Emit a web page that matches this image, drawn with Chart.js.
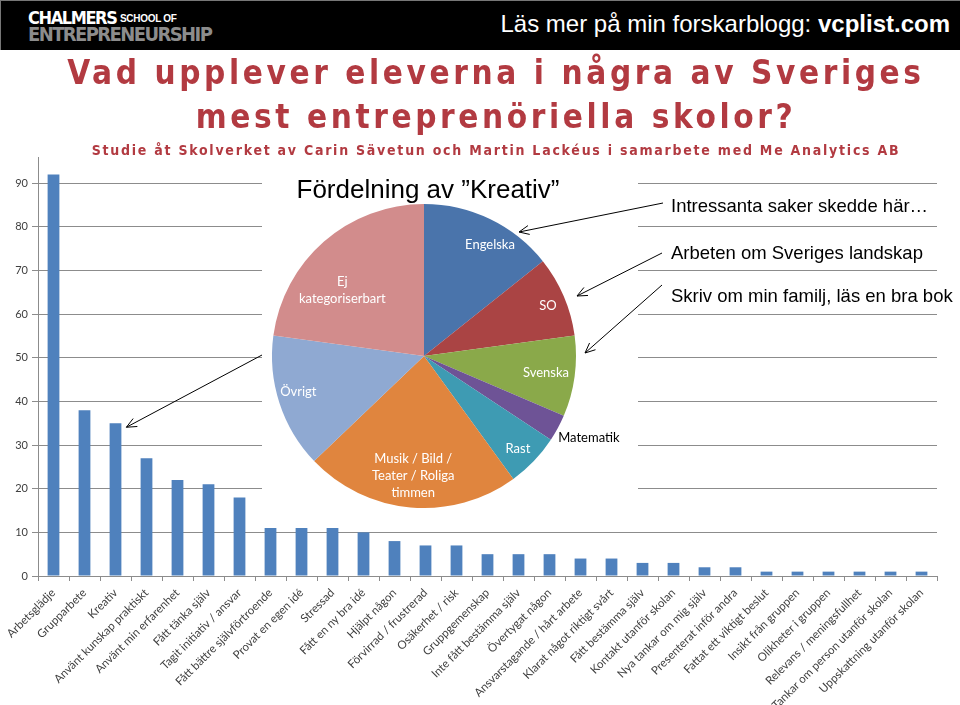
<!DOCTYPE html>
<html>
<head>
<meta charset="utf-8">
<script src="https://cdn.jsdelivr.net/npm/chart.js@4.4.0/dist/chart.umd.min.js"></script>
<style>
body { margin: 0; width: 960px; height: 705px; position: relative; overflow: hidden; background: #fff; font-family: 'Liberation Sans', Arial, sans-serif; }
canvas { position: absolute; left: 0; top: 0; }
.abs { position: absolute; white-space: nowrap; }
#header { left: 0; top: 0; width: 960px; height: 50px; background: #000; border-top: 1px solid #777; border-left: 1px solid #777; box-sizing: border-box; }
#logo1 { left: 28px; top: 7px; color: #fff; font: bold 18px 'DejaVu Sans Condensed', sans-serif; letter-spacing: -1.4px; }
#logo2 { left: 120px; top: 13px; color: #fff; font: bold 10px 'Liberation Sans', sans-serif; letter-spacing: -0.3px; }
#logo3 { left: 28px; top: 22px; color: #8c8c8c; font: bold 20px 'DejaVu Sans Condensed', sans-serif; letter-spacing: -1.6px; }
#blog { right: 10px; top: 9px; color: #fff; font-size: 24px; line-height: 30px; }
.title { left: 16px; width: 960px; text-align: center; color: #b23a41; font-family: 'DejaVu Sans Condensed', sans-serif; font-weight: bold; }
#t1 { top: 55px; font-size: 33px; line-height: 36px; letter-spacing: 3.6px; }
#t2 { top: 99px; font-size: 33px; line-height: 36px; letter-spacing: 3.6px; }
#sub { top: 141px; font-size: 14px; line-height: 18px; letter-spacing: 1.75px; }
#pieTitle { left: 228px; width: 400px; top: 173px; text-align: center; font-size: 26px; line-height: 32px; color: #000; }
.note { left: 671px; color: #000; font-size: 18.5px; line-height: 22px; }
#n1 { top: 195px; }
#n2 { top: 242px; }
#n3 { top: 285px; }
</style>
</head>
<body>
<canvas id="barChart" width="960" height="705"></canvas>
<canvas id="pieChart" width="960" height="705"></canvas>

<div id="header" class="abs"></div>
<div id="logo1" class="abs">CHALMERS</div>
<div id="logo2" class="abs">SCHOOL OF</div>
<div id="logo3" class="abs">ENTREPRENEURSHIP</div>
<div id="blog" class="abs">Läs mer på min forskarblogg: <b>vcplist.com</b></div>

<div id="t1" class="abs title">Vad upplever eleverna i några av Sveriges</div>
<div id="t2" class="abs title">mest entreprenöriella skolor?</div>
<div id="sub" class="abs title">Studie åt Skolverket av Carin Sävetun och Martin Lackéus i samarbete med Me Analytics AB</div>

<div id="pieTitle" class="abs">Fördelning av ”Kreativ”</div>
<div id="n1" class="abs note">Intressanta saker skedde här…</div>
<div id="n2" class="abs note">Arbeten om Sveriges landskap</div>
<div id="n3" class="abs note">Skriv om min familj, läs en bra bok</div>

<script>
// Stapeldiagram: antal omnämnanden per kategori
const categories = [
    'Arbetsglädje', 'Grupparbete', 'Kreativ', 'Använt kunskap praktiskt', 'Använt min erfarenhet',
    'Fått tänka själv', 'Tagit initiativ / ansvar', 'Fått bättre självförtroende', 'Provat en egen idé',
    'Stressad', 'Fått en ny bra idé', 'Hjälpt någon', 'Förvirrad / frustrerad', 'Osäkerhet / risk',
    'Gruppgemenskap', 'Inte fått bestämma själv', 'Övertygat någon', 'Ansvarstagande / hårt arbete',
    'Klarat något riktigt svårt', 'Fått bestämma själv', 'Kontakt utanför skolan', 'Nya tankar om mig själv',
    'Presenterat inför andra', 'Fattat ett viktigt beslut', 'Insikt från gruppen', 'Olikheter i gruppen',
    'Relevans / meningsfullhet', 'Tankar om person utanför skolan', 'Uppskattning utanför skolan'
];
const counts = [92, 38, 35, 27, 22, 21, 18, 11, 11, 11, 10, 8, 7, 7, 5, 5, 5, 4, 4, 3, 3, 2, 2, 1, 1, 1, 1, 1, 1];
const yTicks = [0, 10, 20, 30, 40, 50, 60, 70, 80, 90];

// Cirkeldiagram: fördelning av "Kreativ"
const pieLabels = [['Engelska'], ['SO'], ['Svenska'], ['Matematik'], ['Rast'],
    ['Musik / Bild /', 'Teater / Roliga', 'timmen'], ['Övrigt'], ['Ej', 'kategoriserbart']];
const pieCounts = [5, 3, 3, 1, 2, 8, 5, 8];

const pieColors = ['#4a74ab', '#aa4444', '#8aa94a', '#6e5396', '#3e9bb3', '#e0853e', '#8fa9d2', '#d28c8c'];
// etikettplacering: andel av radien, vinkelförskjutning i grader
const pieLabelPos = [
    { r: 0.85, a: 5 }, { r: 0.88, a: 1 }, { r: 0.81, a: 0 }, { r: 1.21, a: -2 },
    { r: 0.87, a: 1 }, { r: 0.79, a: 0 }, { r: 0.86, a: 2 }, { r: 0.69, a: -10 }
];
const axisGray = '#8c8c8c';
const tickFont = { family: 'Lato', size: 11.5 };

function drawArrow(ctx, x1, y1, x2, y2) {
    const ang = Math.atan2(y2 - y1, x2 - x1);
    const len = 11, spread = 0.42;
    ctx.beginPath();
    ctx.moveTo(x1, y1);
    ctx.lineTo(x2, y2);
    ctx.moveTo(x2 - len * Math.cos(ang - spread), y2 - len * Math.sin(ang - spread));
    ctx.lineTo(x2, y2);
    ctx.lineTo(x2 - len * Math.cos(ang + spread), y2 - len * Math.sin(ang + spread));
    ctx.stroke();
}

const barChart = new Chart(document.getElementById('barChart'), {
    type: 'bar',
    data: {
        labels: categories,
        datasets: [{
            data: counts,
            backgroundColor: '#4f81bd',
            barPercentage: 0.38,
            categoryPercentage: 1
        }]
    },
    options: {
        responsive: false,
        animation: false,
        layout: { padding: { top: 157, right: 23, left: 0, bottom: 0 } },
        plugins: { legend: { display: false }, tooltip: { enabled: false } },
        scales: {
            x: {
                grid: { drawOnChartArea: false, drawTicks: true, tickLength: 5, color: axisGray, offset: true },
                border: { color: axisGray },
                ticks: { autoSkip: false, maxRotation: 45, minRotation: 45, font: tickFont, color: '#404040', padding: 5 },
                afterFit: function(scale) { scale.height = 129; }
            },
            y: {
                min: 0,
                max: 96,
                grid: { color: axisGray, tickLength: 6 },
                border: { color: axisGray },
                ticks: { font: { family: 'Lato', size: 11 }, color: '#404040', padding: 4 },
                afterBuildTicks: function(scale) { scale.ticks = yTicks.map(v => ({ value: v })); },
                afterFit: function(scale) { scale.width = 38; }
            }
        }
    }
});

const pieOverlay = {
    id: 'pieOverlay',
    beforeDraw(chart) {
        const ctx = chart.ctx;
        ctx.save();
        ctx.fillStyle = '#fff';
        ctx.fillRect(262, 168, 376, 347);
        ctx.restore();
    },
    afterDraw(chart) {
        const ctx = chart.ctx;
        const arcs = chart.getDatasetMeta(0).data;
        ctx.save();
        ctx.textAlign = 'center';
        ctx.textBaseline = 'middle';
        ctx.font = '13px Lato';
        arcs.forEach((arc, i) => {
            const pos = pieLabelPos[i];
            const mid = (arc.startAngle + arc.endAngle) / 2 + pos.a * Math.PI / 180;
            const x = arc.x + Math.cos(mid) * arc.outerRadius * pos.r;
            const y = arc.y + Math.sin(mid) * arc.outerRadius * pos.r;
            const lines = chart.data.labels[i];
            ctx.fillStyle = pos.r > 1 ? '#000' : '#fff';
            lines.forEach((line, k) => {
                ctx.fillText(line, x, y + (k - (lines.length - 1) / 2) * 17);
            });
        });

        // pilar
        ctx.strokeStyle = '#000';
        ctx.lineWidth = 1;
        drawArrow(ctx, 663, 203, 519, 232);
        drawArrow(ctx, 662, 253, 577, 296);
        drawArrow(ctx, 662, 285, 585, 353);
        const kreativ = barChart.getDatasetMeta(0).data[2];
        drawArrow(ctx, 262, 355, kreativ.x + kreativ.width / 2 + 5, kreativ.y + 4);
        ctx.restore();
    }
};

const pieChart = new Chart(document.getElementById('pieChart'), {
    type: 'pie',
    data: {
        labels: pieLabels,
        datasets: [{
            data: pieCounts,
            backgroundColor: pieColors,
            borderWidth: 0
        }]
    },
    options: {
        responsive: false,
        animation: false,
        layout: { padding: { left: 272, right: 384, top: 204, bottom: 197 } },
        plugins: { legend: { display: false }, tooltip: { enabled: false } }
    },
    plugins: [pieOverlay]
});
</script>
</body>
</html>
